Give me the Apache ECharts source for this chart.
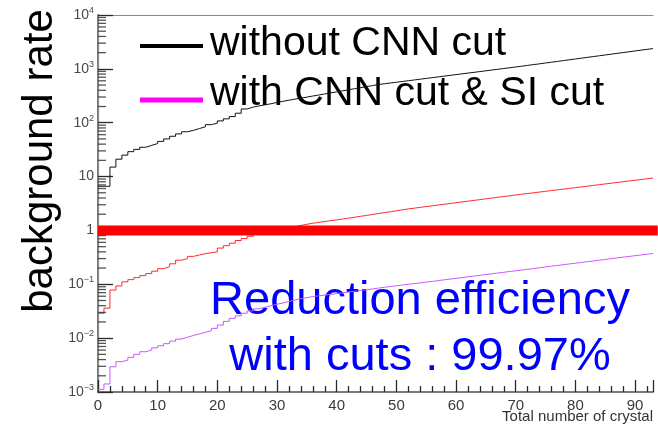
<!DOCTYPE html>
<html>
<head>
<meta charset="utf-8">
<script src="https://cdn.jsdelivr.net/npm/echarts@6/dist/echarts.min.js"></script>
<style>
html, body { margin: 0; padding: 0; background: #fff; }
#main { width: 658px; height: 429px; }
</style>
</head>
<body>
<div id="main"></div>
<script>
// bin contents, one per crystal (0..92)
var withoutCut = [6.6,6.6,15,21,25,29,32,35,38,41,45,50,56,62,68,72,78,84,92,98,108,118,130,150,180,195,205,215,225,238,250,262,274,286,299,313,327,342,358,374,391,409,428,447,468,489,512,529,546,564,583,602,622,643,664,686,709,732,757,782,808,834,862,891,920,950,982,1015,1048,1085,1120,1160,1200,1240,1285,1330,1375,1425,1475,1525,1580,1635,1690,1750,1810,1875,1940,2005,2075,2150,2225,2300,2380];
var cnnCut = [0.029,0.036,0.078,0.093,0.111,0.122,0.133,0.145,0.158,0.175,0.195,0.212,0.24,0.28,0.30,0.33,0.35,0.37,0.385,0.40,0.47,0.52,0.58,0.65,0.71,0.78,0.85,0.89,0.94,0.99,1.04,1.10,1.17,1.24,1.30,1.36,1.41,1.46,1.52,1.57,1.63,1.69,1.76,1.83,1.90,1.98,2.06,2.14,2.22,2.31,2.41,2.51,2.59,2.68,2.77,2.86,2.96,3.06,3.16,3.27,3.38,3.49,3.61,3.73,3.86,3.99,4.12,4.26,4.40,4.55,4.70,4.85,5.0,5.16,5.33,5.50,5.67,5.85,6.04,6.23,6.43,6.64,6.85,7.07,7.30,7.53,7.77,8.02,8.28,8.54,8.82,9.10,9.40];
var cnnSiCut = [0.00112,0.00141,0.00294,0.00365,0.0039,0.0044,0.005,0.0056,0.006,0.0066,0.0072,0.0079,0.0088,0.0096,0.0104,0.0112,0.012,0.0128,0.0138,0.0152,0.0175,0.0205,0.0233,0.026,0.029,0.032,0.035,0.0375,0.040,0.0425,0.045,0.048,0.051,0.054,0.0565,0.059,0.061,0.063,0.065,0.067,0.069,0.072,0.074,0.077,0.079,0.082,0.085,0.088,0.091,0.094,0.097,0.100,0.103,0.106,0.110,0.113,0.117,0.121,0.125,0.129,0.133,0.138,0.142,0.147,0.152,0.157,0.162,0.167,0.173,0.178,0.184,0.190,0.196,0.203,0.210,0.217,0.224,0.231,0.239,0.246,0.254,0.263,0.271,0.280,0.289,0.299,0.309,0.319,0.329,0.340,0.351,0.362,0.374];
var refLevel = [[0, 1], [93.8, 1]];
var xMax = 93;
var yMin = 0.001, yMax = 10000;
var legendNames = ['without CNN cut', 'with CNN cut & SI cut'];
var noteLines = ['Reduction efficiency', 'with cuts : 99.97%'];

var FONT = '"Liberation Sans", Arial, Helvetica, sans-serif';
var TICK = '#2a2a2a';

function toHist(arr) {
    var d = arr.map(function(v, i) { return [i, v]; });
    d.push([arr.length, arr[arr.length - 1]]);
    return d;
}

// minor ticks of the log axis (2..9 x 10^n)
var yMinor = [];
for (var e = -3; e < 4; e++) {
    for (var m = 2; m < 10; m++) yMinor.push([0, m * Math.pow(10, e)]);
}

var frameLine = { show: true, lineStyle: { color: '#8a8a8a', width: 1.2 } };

var myChart = echarts.init(document.getElementById('main'));
var option = {
    animation: false,
    grid: { left: 98, right: 5, top: 15, bottom: 37 },
    xAxis: [{
        type: 'value',
        min: 0, max: xMax, interval: 10,
        axisLine: { lineStyle: { color: '#7a7a7a', width: 2 } },
        axisTick: { show: true, inside: true, length: 12, lineStyle: { color: TICK, width: 1.3 } },
        minorTick: { show: true, splitNumber: 5, length: 6, lineStyle: { color: TICK, width: 1.3 } },
        axisLabel: { fontSize: 15, color: '#3a3a3a', fontFamily: FONT, margin: 6, showMaxLabel: false },
        splitLine: { show: false }
    }, {
        type: 'value', position: 'top', min: 0, max: xMax,
        axisLine: frameLine, axisTick: { show: false }, axisLabel: { show: false }, splitLine: { show: false }
    }],
    yAxis: [{
        type: 'log',
        logBase: 10,
        min: yMin, max: yMax,
        axisLine: { show: true, lineStyle: { color: '#7a7a7a', width: 2 } },
        axisTick: { show: true, inside: true, length: 15, lineStyle: { color: TICK, width: 1.3 } },
        axisLabel: {
            color: '#4a4a4a', fontFamily: FONT, fontSize: 14, margin: 4,
            formatter: function(v) {
                var p = Math.round(Math.log10(v));
                if (p === 0) return '1';
                if (p === 1) return '10';
                return '10{sup|' + (p < 0 ? '\u2212' + (-p) : p) + '}';
            },
            rich: {
                sup: { fontSize: 9, fontFamily: FONT, color: '#4a4a4a', padding: [0, 0, 9, 0] }
            }
        },
        splitLine: { show: false }
    }, {
        type: 'log', position: 'right', min: yMin, max: yMax,
        axisLine: frameLine, axisTick: { show: false }, axisLabel: { show: false }, splitLine: { show: false }
    }],
    series: [
        {
            type: 'scatter', data: yMinor, symbol: 'rect', clip: false,
            symbolSize: [8, 1.3], symbolOffset: [4, 0], silent: true,
            itemStyle: { color: TICK }, z: 3
        },
        {
            name: legendNames[0], type: 'line', step: 'end', data: toHist(withoutCut),
            symbol: 'none', lineStyle: { color: '#111', width: 1 }
        },
        {
            name: 'CNN cut', type: 'line', step: 'end', data: toHist(cnnCut),
            symbol: 'none', lineStyle: { color: '#ff2a2a', width: 1 }
        },
        {
            name: legendNames[1], type: 'line', step: 'end', data: toHist(cnnSiCut),
            symbol: 'none', lineStyle: { color: '#cc55ff', width: 1 }
        },
        {
            type: 'line', data: refLevel, symbol: 'none', clip: false,
            lineStyle: { color: '#ff0000', width: 10 }, z: 5
        }
    ],
    graphic: [
        { type: 'text', x: 40, y: 161, rotation: Math.PI / 2,
          style: { text: 'background rate', fontSize: 42, fontFamily: FONT, fill: '#000', align: 'center', verticalAlign: 'middle' } },
        { type: 'line', shape: { x1: 140, y1: 46, x2: 203, y2: 46 }, style: { stroke: '#000', lineWidth: 4 } },
        { type: 'line', shape: { x1: 140, y1: 100, x2: 203, y2: 100 }, style: { stroke: '#ff00ff', lineWidth: 5 } },
        { type: 'text', x: 210, y: 44, style: { text: legendNames[0], fontSize: 41, fontFamily: FONT, fill: '#000', verticalAlign: 'middle' } },
        { type: 'text', x: 210, y: 94, style: { text: legendNames[1], fontSize: 41, fontFamily: FONT, fill: '#000', verticalAlign: 'middle' } },
        { type: 'text', x: 420, y: 301, style: { text: noteLines[0], fontSize: 47, fontFamily: FONT, fill: '#0000ff', align: 'center', verticalAlign: 'middle' } },
        { type: 'text', x: 420, y: 357, style: { text: noteLines[1], fontSize: 47, fontFamily: FONT, fill: '#0000ff', align: 'center', verticalAlign: 'middle' } },
        { type: 'text', x: 653, y: 417, style: { text: 'Total number of crystal', fontSize: 15, fontFamily: FONT, fill: '#333', align: 'right', verticalAlign: 'middle' } }
    ]
};
myChart.setOption(option);
window.onresize = function() {
    myChart.resize();
};
</script>
</body>
</html>
